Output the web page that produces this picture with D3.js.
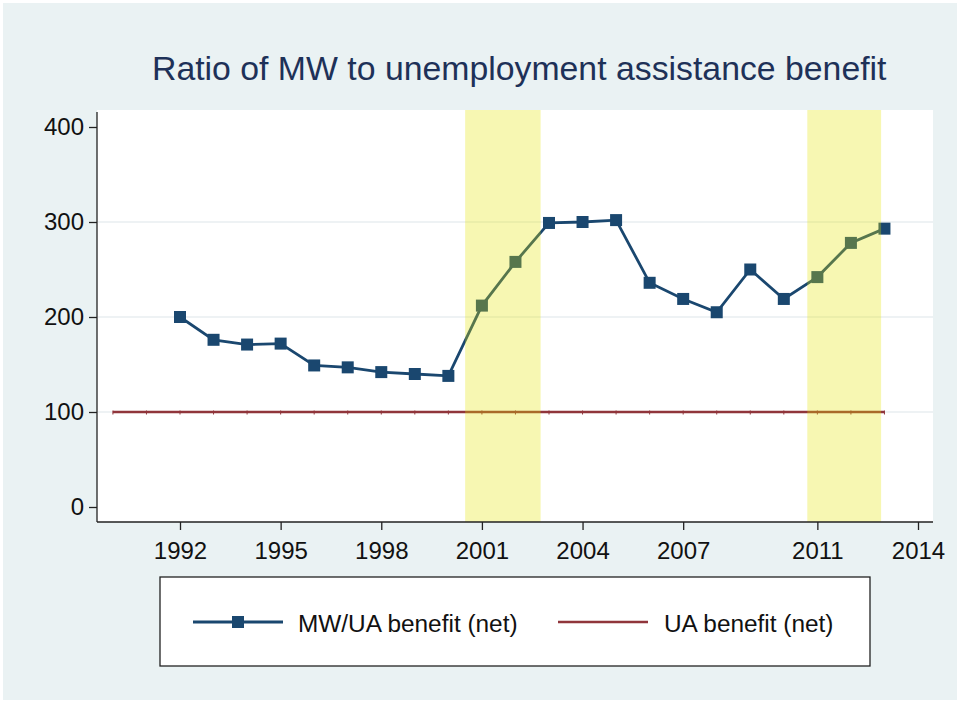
<!DOCTYPE html>
<html>
<head>
<meta charset="utf-8">
<script src="https://cdn.jsdelivr.net/npm/d3@7"></script>
<style>
  body { margin: 0; background: #fff; }
  text { font-family: "Liberation Sans", Arial, sans-serif; }
</style>
</head>
<body>
<div id="chart"></div>
<script>
// values
const years = [1992, 1993, 1994, 1995, 1996, 1997, 1998, 1999, 2000, 2001, 2002,
               2003, 2004, 2005, 2006, 2007, 2008, 2009, 2010, 2011, 2012, 2013];
const ratio = [200, 176, 171, 172, 149, 147, 142, 140, 138, 212, 258,
               299, 300, 302, 236, 219, 205, 250, 219, 242, 278, 293];
const uaYears = d3.range(1990, 2014);
const uaValues = uaYears.map(() => 100);
const bands = [[2000.5, 2002.75], [2010.7, 2012.9]];
const xTicks = [1992, 1995, 1998, 2001, 2004, 2007, 2011, 2014];
const yTicks = [0, 100, 200, 300, 400];
const gridVals = [100, 200, 300];

const W = 960, H = 703;
const plot = { left: 97, right: 933, top: 110, bottom: 522 };

const svg = d3.select("#chart").append("svg")
    .attr("width", W).attr("height", H);

svg.append("rect").attr("x", 3).attr("y", 3).attr("width", W - 6).attr("height", H - 6)
    .attr("fill", "#eaf2f3");

svg.append("rect").attr("x", plot.left).attr("y", plot.top)
    .attr("width", plot.right - plot.left).attr("height", plot.bottom - plot.top)
    .attr("fill", "#fff");

const x = d3.scaleLinear().domain([1992, 2014]).range([180, 918]);
const y = d3.scaleLinear().domain([0, 400]).range([507, 127]);

// grid
svg.append("g").selectAll("line").data(gridVals).enter().append("line")
    .attr("x1", plot.left + 1).attr("x2", plot.right)
    .attr("y1", d => y(d)).attr("y2", d => y(d))
    .attr("stroke", "#e8eef0").attr("stroke-width", 1.5);

// series
const blue = "#1a476f", red = "#90353b";

svg.append("path").datum(uaYears.map((yr, i) => [yr, uaValues[i]]))
    .attr("fill", "none").attr("stroke", red).attr("stroke-width", 2.6)
    .attr("d", d3.line().x(d => x(d[0])).y(d => y(d[1])));
// tiny markers on the UA line
svg.append("g").selectAll("line").data(uaYears).enter().append("line")
    .attr("x1", d => x(d)).attr("x2", d => x(d))
    .attr("y1", (d, i) => y(uaValues[i]) - 1.5).attr("y2", (d, i) => y(uaValues[i]) + 2.5)
    .attr("stroke", red).attr("stroke-width", 1);

svg.append("path").datum(years.map((yr, i) => [yr, ratio[i]]))
    .attr("fill", "none").attr("stroke", blue).attr("stroke-width", 2.8)
    .attr("d", d3.line().x(d => x(d[0])).y(d => y(d[1])));

svg.append("g").selectAll("rect").data(years).enter().append("rect")
    .attr("x", d => x(d) - 6).attr("y", (d, i) => y(ratio[i]) - 6)
    .attr("width", 12).attr("height", 12).attr("fill", blue);

// shaded periods over the lines
svg.append("g").selectAll("rect").data(bands).enter().append("rect")
    .attr("x", d => x(d[0])).attr("width", d => x(d[1]) - x(d[0]))
    .attr("y", plot.top).attr("height", plot.bottom - plot.top)
    .attr("fill", "#e6e600").attr("opacity", 0.3);

// axes
const yAxis = svg.append("g").attr("transform", `translate(${plot.left},0)`)
    .call(d3.axisLeft(y).tickValues(yTicks).tickSize(8).tickPadding(5));
yAxis.select(".domain").attr("d", `M0,${plot.top + 2}V${plot.bottom}`).attr("stroke", "#222").attr("stroke-width", 1.3);

const xAxis = svg.append("g").attr("transform", `translate(0,${plot.bottom})`)
    .call(d3.axisBottom(x).tickValues(xTicks).tickFormat(d3.format("d")).tickSize(8).tickPadding(12));
xAxis.select(".domain").attr("d", `M${plot.left},0H${plot.right}`).attr("stroke", "#222").attr("stroke-width", 1.3);

svg.selectAll(".tick line").attr("stroke", "#222").attr("stroke-width", 1.3);
svg.selectAll(".tick text").attr("font-size", 24).attr("fill", "#111")
    .attr("font-family", "Liberation Sans, Arial, sans-serif");

// title
svg.append("text").attr("x", 152).attr("y", 80)
    .attr("font-size", 33.8).attr("fill", "#1e3158")
    .text("Ratio of MW to unemployment assistance benefit");

// legend
const lg = svg.append("g");
lg.append("rect").attr("x", 160).attr("y", 577).attr("width", 710).attr("height", 89)
    .attr("fill", "#fff").attr("stroke", "#222").attr("stroke-width", 1.3);
lg.append("line").attr("x1", 193).attr("x2", 283).attr("y1", 622).attr("y2", 622)
    .attr("stroke", blue).attr("stroke-width", 2.8);
lg.append("rect").attr("x", 232).attr("y", 616).attr("width", 12).attr("height", 12).attr("fill", blue);
lg.append("text").attr("x", 298).attr("y", 632).attr("font-size", 24.4).attr("fill", "#111")
    .text("MW/UA benefit (net)");
lg.append("line").attr("x1", 558).attr("x2", 648).attr("y1", 622).attr("y2", 622)
    .attr("stroke", red).attr("stroke-width", 2.6);
lg.append("text").attr("x", 664).attr("y", 632).attr("font-size", 24.4).attr("fill", "#111")
    .text("UA benefit (net)");
</script>
</body>
</html>
